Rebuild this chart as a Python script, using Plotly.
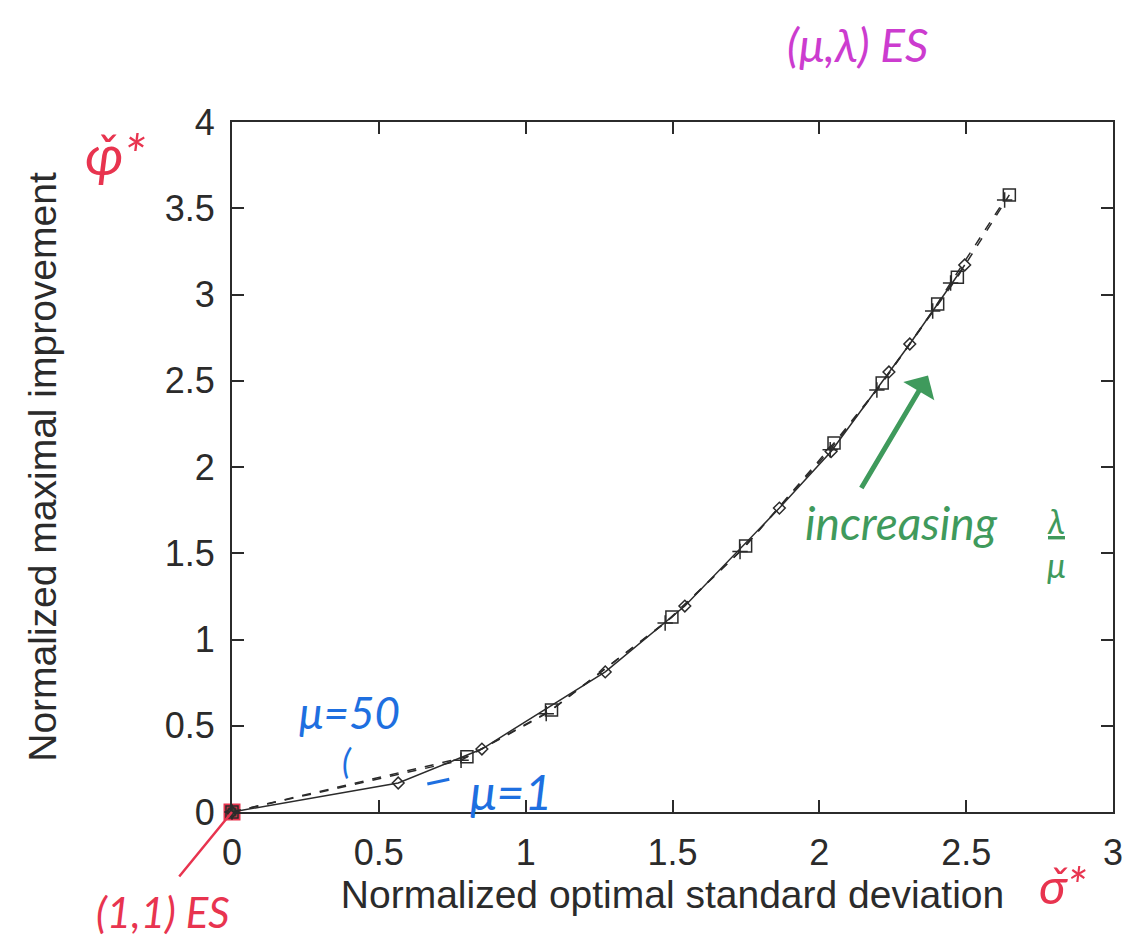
import plotly.graph_objects as go

# ---- data ----
mu1_sigma = [0, 0.566, 0.851, 1.271, 1.542, 1.864, 2.04, 2.237, 2.308, 2.495]
mu1_phi = [0, 0.168, 0.365, 0.812, 1.194, 1.762, 2.09, 2.551, 2.713, 3.171]
mid_sigma = [0, 0.78, 1.07, 1.475, 1.73, 2.037, 2.196, 2.386, 2.447, 2.631]
mid_phi = [0, 0.30, 0.57, 1.096, 1.51, 2.10, 2.446, 2.904, 3.067, 3.548]
mu50_sigma = [0, 0.80, 1.088, 1.498, 1.749, 2.05, 2.214, 2.403, 2.47, 2.647]
mu50_phi = [0, 0.32, 0.591, 1.130, 1.542, 2.139, 2.487, 2.945, 3.10, 3.577]
origin_sigma = [0]
origin_phi = [0]

x_ticks = [0, 0.5, 1, 1.5, 2, 2.5, 3]
x_tick_text = ["0", "0.5", "1", "1.5", "2", "2.5", "3"]
y_ticks = [0, 0.5, 1, 1.5, 2, 2.5, 3, 3.5, 4]
y_tick_text = ["0", "0.5", "1", "1.5", "2", "2.5", "3", "3.5", "4"]

INK = "#2b2b2b"
RED = "#e8344f"
MAG = "#cc3ccf"
BLUE = "#1e6fe0"
GREEN = "#3f9a5c"
HAND = "Lato"

fig = go.Figure()
fig.add_trace(go.Scatter(x=origin_sigma, y=origin_phi, mode="markers",
                         marker=dict(symbol="square", size=13, color="#4a3a30",
                                     line=dict(color=RED, width=4)),
                         showlegend=False, cliponaxis=False))
fig.add_trace(go.Scatter(x=mid_sigma, y=mid_phi, mode="lines+markers",
                         line=dict(color=INK, width=1.5, dash="dash"),
                         marker=dict(symbol="cross-thin-open", size=11,
                                     line=dict(color=INK, width=1.5)),
                         showlegend=False, cliponaxis=False))
fig.add_trace(go.Scatter(x=mu50_sigma, y=mu50_phi, mode="lines+markers",
                         line=dict(color=INK, width=1.5, dash="dash"),
                         marker=dict(symbol="square-open", size=12, color=INK,
                                     line=dict(color=INK, width=1.5)),
                         showlegend=False, cliponaxis=False))
fig.add_trace(go.Scatter(x=mu1_sigma, y=mu1_phi, mode="lines+markers",
                         line=dict(color=INK, width=1.5),
                         marker=dict(symbol="diamond-open", size=9, color=INK,
                                     line=dict(color=INK, width=1.5)),
                         showlegend=False, cliponaxis=False))

axis_common = dict(showline=True, linecolor=INK, linewidth=2, mirror="ticks",
                   ticks="inside", ticklen=12, tickwidth=1.5, tickcolor=INK,
                   showgrid=False, zeroline=False,
                   tickfont=dict(family="Liberation Sans", size=36, color=INK))

fig.update_xaxes(range=[0, 3], tickvals=x_ticks, ticktext=x_tick_text,
                 ticklabelstandoff=8,
                 title=dict(text="Normalized optimal standard deviation",
                            font=dict(family="Liberation Sans", size=39, color=INK),
                            standoff=0),
                 **axis_common)
fig.update_yaxes(range=[0, 4], tickvals=y_ticks, ticktext=y_tick_text,
                 ticklabelstandoff=8,
                 title=dict(text="Normalized maximal improvement",
                            font=dict(family="Liberation Sans", size=39, color=INK),
                            standoff=96),
                 **axis_common)

def hand(text, x, y, color, size, data=False, **kw):
    fig.add_annotation(x=x, y=y, xref="x" if data else "paper",
                       yref="y" if data else "paper", text=text, showarrow=False,
                       xanchor="center", yanchor="middle",
                       font=dict(family=HAND, size=size, color=color, style="italic"),
                       **kw)

# notes outside the plot area (paper coordinates)
hand("(μ,λ) ES", 0.71, 1.112, MAG, 46)
hand("φ̌*", -0.132, 0.955, RED, 56)
hand("σ̌*", 0.943, -0.106, RED, 50)
hand("(1,1) ES", -0.078, -0.145, RED, 42)
# notes inside the plot area (data coordinates)
hand("μ=50", 0.40, 0.58, BLUE, 44, data=True)
hand("(", 0.39, 0.30, BLUE, 34, data=True)
hand("μ=1", 0.95, 0.12, BLUE, 48, data=True)
hand("increasing", 2.28, 1.68, GREEN, 46, data=True)
hand("<u>λ</u><br>μ", 2.807, 1.565, GREEN, 34, data=True)

# red stroke from (1,1) ES label to origin
fig.add_annotation(x=0, y=0, ax=-54, ay=66, xref="x", yref="y",
                   text="", showarrow=True,
                   arrowhead=0, arrowwidth=2.5, arrowcolor=RED)
# blue small stroke near mu=1
fig.add_annotation(x=0.74, y=0.19, ax=0.66, ay=0.16, xref="x", yref="y",
                   axref="x", ayref="y", text="", showarrow=True,
                   arrowhead=0, arrowwidth=3, arrowcolor=BLUE)
# green arrow
fig.add_annotation(x=2.37, y=2.53, ax=2.14, ay=1.87, xref="x", yref="y",
                   axref="x", ayref="y", text="", showarrow=True,
                   arrowhead=1, arrowsize=1.2, arrowwidth=5, arrowcolor=GREEN)

fig.update_layout(width=1135, height=950,
                  margin=dict(l=232, r=18, t=122, b=138),
                  paper_bgcolor="white", plot_bgcolor="white",
                  showlegend=False)

fig.write_html("out.html")
